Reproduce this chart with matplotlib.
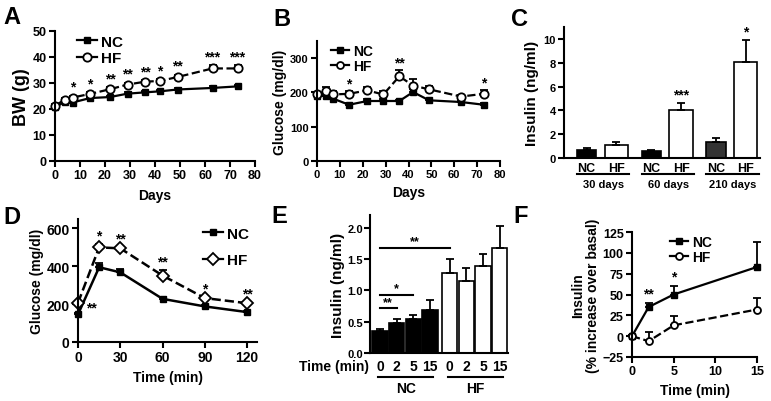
import matplotlib.pyplot as plt
from matplotlib.lines import Line2D
from matplotlib.transforms import blended_transform_factory as btf

plt.rcParams['font.family'] = ['Liberation Sans', 'DejaVu Sans']
plt.rcParams['font.weight'] = 'bold'
plt.rcParams['axes.labelweight'] = 'bold'

# A - body weight
days = [0, 4, 7, 14, 22, 29, 36, 42, 49, 63, 73]
bw_nc = [20.8, 22.7, 22.5, 24.2, 24.6, 25.9, 26.4, 26.8, 27.5, 28.1, 28.7]
bw_nc_err = [0.5, 0.4, 0.4, 0.5, 0.5, 0.5, 0.5, 0.5, 0.5, 0.6, 0.7]
bw_hf = [21.3, 23.6, 24.4, 25.8, 27.6, 29.4, 30.5, 30.8, 32.3, 35.6, 35.6]
bw_hf_err = [0.5, 0.5, 0.6, 0.6, 0.7, 0.7, 0.6, 0.7, 0.8, 1.3, 1.2]
bw_stars = ['', '', '*', '*', '**', '**', '**', '*', '**', '***', '***']

# B - fasting glucose
glu_nc = [191, 189, 182, 164, 175, 175, 175, 201, 177, 172, 164]
glu_nc_err = [4, 4, 4, 4, 5, 5, 4, 8, 4, 4, 4]
glu_hf = [194, 204, 194, 196, 206, 194, 247, 220, 209, 188, 196]
glu_hf_err = [6, 12, 10, 8, 10, 10, 18, 18, 10, 5, 10]
glu_stars = ['', '', '', '*', '', '', '**', '', '', '', '*']

# C - insulin
c_groups = ['30 days', '60 days', '210 days']
ins_nc = [0.7, 0.6, 1.35]
ins_nc_err = [0.15, 0.08, 0.35]
ins_hf = [1.1, 4.05, 8.05]
ins_hf_err = [0.25, 0.6, 1.85]
ins_stars = ['', '***', '*']

# D - glucose tolerance
gtt_t = [0, 15, 30, 60, 90, 120]
gtt_nc = [146, 395, 368, 228, 188, 158]
gtt_nc_err = [8, 25, 20, 8, 6, 6]
gtt_hf = [207, 500, 495, 351, 232, 205]
gtt_hf_err = [8, 20, 10, 30, 10, 8]
gtt_stars = ['**', '*', '**', '**', '*', '**']

# E - insulin secretion
e_times = ['0', '2', '5', '15']
e_nc = [0.35, 0.48, 0.54, 0.69]
e_nc_err = [0.04, 0.06, 0.07, 0.16]
e_hf = [1.27, 1.15, 1.38, 1.68]
e_hf_err = [0.23, 0.21, 0.2, 0.35]

# F - % increase over basal
f_t = [0, 2, 5, 15]
f_nc = [0, 35, 50, 83]
f_nc_err = [1, 5, 10, 30]
f_hf = [0, -6, 13, 32]
f_hf_err = [1, 11, 11, 14]
f_stars = ['', '**', '*', '']

W, H = 771, 402
fig = plt.figure(figsize=(W / 100, H / 100), dpi=100)


def add_ax(l, r, t, b):
    ax = fig.add_axes([l / W, 1 - b / H, (r - l) / W, (b - t) / H])
    for s in ['top', 'right']:
        ax.spines[s].set_visible(False)
    for s in ['left', 'bottom']:
        ax.spines[s].set_linewidth(1.5)
    ax.tick_params(width=1.5, length=4, labelsize=9, pad=2)
    return ax


def up_err(ax, x, y, err, **kw):
    return ax.errorbar(x, y, yerr=[[0] * len(err), err], color='black', capsize=3,
                       elinewidth=1.3, capthick=1.3, clip_on=False, **kw)


def stars(ax, x, y, err, marks, off, size=10):
    for xi, yi, e, m in zip(x, y, err, marks):
        if m:
            ax.text(xi, yi + e + off, m, ha='center', va='bottom', fontsize=size)


def legend(ax, hf_marker, ms, **kw):
    h = [Line2D([], [], color='black', marker='s', ms=ms - 1, lw=1.6),
         Line2D([], [], color='black', marker=hf_marker, ms=ms, lw=1.6, mfc='white', mew=1.3)]
    ax.legend(h, ['NC', 'HF'], frameon=False, handlelength=1.3, handletextpad=0.3,
              borderaxespad=0.1, **kw)


def panel(x, y, s):
    fig.text(x / W, 1 - y / H, s, fontsize=17, fontweight='bold', va='top')


# ---- A
ax = add_ax(55, 255, 32, 162)
up_err(ax, days, bw_nc, bw_nc_err, fmt='-s', ms=5, lw=1.6)
up_err(ax, days, bw_hf, bw_hf_err, fmt='--o', ms=6, lw=1.6, mfc='white', mew=1.3)
stars(ax, days, bw_hf, bw_hf_err, bw_stars, 0.8)
ax.set_xlim(0, 80)
ax.set_ylim(0, 50)
ax.set_xticks(range(0, 81, 10))
ax.set_yticks(range(0, 51, 10))
ax.set_xlabel('Days', fontsize=10, labelpad=5)
ax.set_ylabel('BW (g)', fontsize=13, labelpad=2)
legend(ax, 'o', 6, loc='upper left', fontsize=11, labelspacing=0.15, bbox_to_anchor=(0.07, 1.03))
panel(3, 6, 'A')

# ---- B
ax = add_ax(317, 500, 42, 162)
up_err(ax, days, glu_nc, glu_nc_err, fmt='-s', ms=4, lw=1.6)
up_err(ax, days, glu_hf, glu_hf_err, fmt='--o', ms=6, lw=1.6, mfc='white', mew=1.3)
stars(ax, days, glu_hf, glu_hf_err, glu_stars, 3)
ax.set_xlim(0, 80)
ax.set_ylim(0, 350)
ax.set_xticks(range(0, 81, 10))
ax.set_yticks([0, 100, 200, 300])
ax.tick_params(labelsize=8)
ax.set_xlabel('Days', fontsize=10, labelpad=4)
ax.set_ylabel('Glucose (mg/dl)', fontsize=10, labelpad=2)
legend(ax, 'o', 5, loc='upper left', fontsize=10, labelspacing=0.05, bbox_to_anchor=(0.04, 1.03))
panel(273, 8, 'B')

# ---- C
ax = add_ax(564, 760, 28, 159)
gx = range(len(c_groups))
xn = [g - 0.23 for g in gx]
xh = [g + 0.23 for g in gx]
ax.bar(xn, ins_nc, width=0.3, color=['black', 'black', '#333333'], edgecolor='black', lw=1.2)
ax.bar(xh, ins_hf, width=0.36, color='white', edgecolor='black', lw=1.2)
up_err(ax, xn, ins_nc, ins_nc_err, fmt='none')
up_err(ax, xh, ins_hf, ins_hf_err, fmt='none')
stars(ax, xh, ins_hf, ins_hf_err, ins_stars, 0.1)
ax.set_xlim(-0.58, 2.45)
ax.set_ylim(0, 11)
ax.set_yticks(range(0, 11, 2))
ax.set_xticks(list(xn) + list(xh))
ax.set_xticklabels(['NC'] * 3 + ['HF'] * 3, fontsize=9)
ax.tick_params(axis='x', length=0, pad=3)
ax.tick_params(axis='y', labelsize=8)
ax.set_ylabel('Insulin (ng/ml)', fontsize=11, labelpad=3)
tr = btf(ax.transData, ax.transAxes)
for g, name in zip(gx, c_groups):
    ax.plot([g - 0.38, g + 0.43], [-0.125, -0.125], color='black', lw=1.5, transform=tr, clip_on=False)
    ax.text(g + 0.03, -0.16, name, transform=tr, ha='center', va='top', fontsize=8)
panel(511, 8, 'C')

# ---- D
ax = add_ax(78, 257, 220, 343)
up_err(ax, gtt_t, gtt_nc, gtt_nc_err, fmt='-s', ms=5, lw=1.8)
up_err(ax, gtt_t, gtt_hf, gtt_hf_err, fmt='--D', ms=6, lw=1.8, mfc='white', mew=1.3)
stars(ax, gtt_t[1:], gtt_hf[1:], gtt_hf_err[1:], gtt_stars[1:], 5)
ax.text(6, 185, gtt_stars[0], ha='left', va='center', fontsize=10)
ax.set_xlim(0, 127)
ax.set_ylim(0, 650)
ax.set_xticks(gtt_t[0:1] + gtt_t[2:])
ax.set_yticks([0, 200, 400, 600])
ax.tick_params(labelsize=10)
ax.set_xlabel('Time (min)', fontsize=10, labelpad=4)
ax.set_ylabel('Glucose (mg/dl)', fontsize=10, labelpad=2)
legend(ax, 'D', 6, loc='upper right', fontsize=11, labelspacing=0.8)
panel(3, 206, 'D')

# ---- E
ax = add_ax(370, 508, 216, 354)
ex_nc = [0, 1, 2, 3]
ex_hf = [4.2, 5.2, 6.2, 7.2]
ax.bar(ex_nc, e_nc, width=0.92, color='black', edgecolor='black', lw=1.2)
ax.bar(ex_hf, e_hf, width=0.92, color='white', edgecolor='black', lw=1.2)
up_err(ax, ex_nc, e_nc, e_nc_err, fmt='none')
up_err(ax, ex_hf, e_hf, e_hf_err, fmt='none')
for a, b, y, s in [(0, 1, 0.71, '**'), (0, 2, 0.92, '*'), (0, 4.2, 1.68, '**')]:
    ax.plot([a, b], [y, y], color='black', lw=1.5)
    ax.text((a + b) / 2, y + 0.01, s, ha='center', va='bottom', fontsize=9)
ax.set_xlim(-0.6, 7.7)
ax.set_ylim(0, 2.2)
ax.set_yticks([0, 0.5, 1.0, 1.5, 2.0])
ax.set_yticklabels(['0.0', '0.5', '1.0', '1.5', '2.0'])
ax.set_xticks(ex_nc + ex_hf)
ax.set_xticklabels(e_times * 2, fontsize=10)
ax.tick_params(axis='x', length=0, pad=4)
ax.tick_params(axis='y', labelsize=8, pad=1)
ax.set_ylabel('Insulin (ng/ml)', fontsize=11, labelpad=2)
tr = btf(ax.transData, ax.transAxes)
ax.text(-0.65, -0.04, 'Time (min)', transform=tr, ha='right', va='top', fontsize=10)
for a, b, name in [(0, 3, 'NC'), (4.2, 7.2, 'HF')]:
    ax.plot([a - 0.1, b + 0.2], [-0.175, -0.175], color='black', lw=1.5, transform=tr, clip_on=False)
    ax.text((a + b) / 2 + 0.05, -0.2, name, transform=tr, ha='center', va='top', fontsize=10)
panel(271, 205, 'E')

# ---- F
ax = add_ax(632, 757, 233, 358)
up_err(ax, f_t, f_nc, f_nc_err, fmt='-s', ms=4, lw=1.6)
up_err(ax, f_t, f_hf, f_hf_err, fmt='--o', ms=5, lw=1.6, mfc='white', mew=1.3)
stars(ax, f_t, f_nc, f_nc_err, f_stars, 3)
ax.set_xlim(0, 15)
ax.set_ylim(-25, 125)
ax.set_xticks([0, 5, 10, 15])
ax.set_yticks([-25, 0, 25, 50, 75, 100, 125])
ax.tick_params(labelsize=9)
ax.set_xlabel('Time (min)', fontsize=10, labelpad=4)
ax.set_ylabel('Insulin\n(% increase over basal)', fontsize=10, labelpad=2, linespacing=1.1)
legend(ax, 'o', 5, loc='upper left', fontsize=10, labelspacing=0.05, bbox_to_anchor=(0.25, 1.03))
panel(513, 205, 'F')

fig.savefig('out.png', dpi=100)
